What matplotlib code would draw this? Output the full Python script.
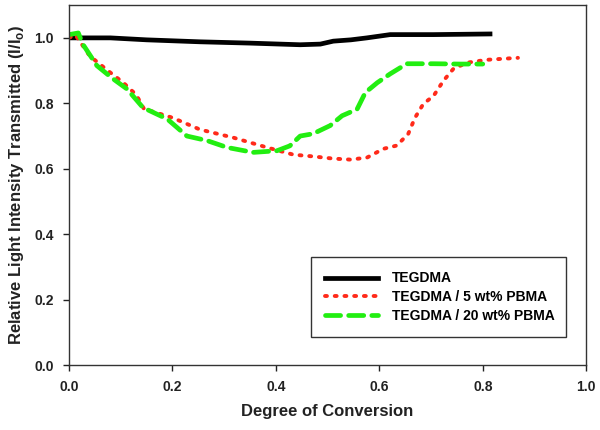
import matplotlib
matplotlib.use('Agg')
import matplotlib.pyplot as plt

plt.rcParams['font.family'] = ['Liberation Sans', 'DejaVu Sans']
plt.rcParams['font.weight'] = 'bold'

# TEGDMA
x_neat = [0.0, 0.08, 0.15, 0.253, 0.35, 0.447, 0.486, 0.511, 0.545, 0.576, 0.621, 0.66, 0.705, 0.76, 0.814]
y_neat = [1.0, 1.0, 0.994, 0.988, 0.984, 0.979, 0.981, 0.99, 0.994, 1.0, 1.01, 1.01, 1.01, 1.011, 1.012]

# TEGDMA / 5 wt% PBMA
x_5 = [0.0, 0.012, 0.04, 0.075, 0.105, 0.13, 0.145, 0.20, 0.253, 0.318, 0.383, 0.434, 0.47, 0.511,
       0.544, 0.576, 0.608, 0.634, 0.656, 0.669, 0.685, 0.705, 0.724, 0.743, 0.769, 0.808, 0.868]
y_5 = [1.0, 1.01, 0.945, 0.9, 0.863, 0.826, 0.783, 0.756, 0.72, 0.695, 0.665, 0.643, 0.638, 0.631,
       0.628, 0.634, 0.661, 0.671, 0.707, 0.756, 0.798, 0.823, 0.869, 0.905, 0.924, 0.933, 0.939]

# TEGDMA / 20 wt% PBMA
x_20 = [0.0, 0.018, 0.027, 0.054, 0.085, 0.112, 0.143, 0.19, 0.228, 0.267, 0.306, 0.356, 0.402, 0.427,
        0.447, 0.472, 0.505, 0.528, 0.557, 0.573, 0.596, 0.621, 0.653, 0.705, 0.756, 0.80]
y_20 = [1.01, 1.015, 0.98, 0.915, 0.875, 0.844, 0.787, 0.752, 0.70, 0.686, 0.665, 0.65, 0.655, 0.67,
        0.70, 0.707, 0.732, 0.762, 0.782, 0.833, 0.863, 0.89, 0.921, 0.921, 0.92, 0.92]

fig = plt.figure(figsize=(6.0, 4.3), dpi=100)
ax = fig.add_axes([0.115, 0.151, 0.862, 0.837])

ax.plot(x_neat, y_neat, color='black', lw=3.4, label='TEGDMA')
ax.plot(x_5, y_5, color='#ff2a1a', lw=2.8, ls=(0, (0.5, 2.0)), dash_capstyle='round',
        label='TEGDMA / 5 wt% PBMA')
ax.plot(x_20, y_20, color='#22ee11', lw=3.4, ls=(0, (3.2, 1.7)), dash_capstyle='round',
        label='TEGDMA / 20 wt% PBMA')

ax.set_xlim(0, 1.0)
ax.set_ylim(0, 1.1)
ax.set_xticks([0.0, 0.2, 0.4, 0.6, 0.8, 1.0])
ax.set_yticks([0.0, 0.2, 0.4, 0.6, 0.8, 1.0])
ax.set_xticklabels(['0.0', '0.2', '0.4', '0.6', '0.8', '1.0'])
ax.set_yticklabels(['0.0', '0.2', '0.4', '0.6', '0.8', '1.0'])
ax.tick_params(direction='out', length=4, width=1, labelsize=10, colors='#222222', pad=7)
for lab in ax.get_xticklabels() + ax.get_yticklabels():
    lab.set_fontweight('bold')
for s in ax.spines.values():
    s.set_color('#333333')
    s.set_linewidth(1)

ax.set_xlabel('Degree of Conversion', fontsize=12, fontweight='bold', labelpad=7, color='#222222')
ax.set_ylabel('Relative Light Intensity Transmitted (I/I$_\\mathregular{o}$)', fontsize=12,
              fontweight='bold', labelpad=6, color='#222222')

leg = ax.legend(loc='lower left', bbox_to_anchor=(0.468, 0.078, 0.493, 0.205), mode='expand',
                fancybox=False, edgecolor='#333333', framealpha=1,
                prop={'weight': 'bold', 'size': 10}, handlelength=3.8, handletextpad=1.0,
                borderpad=1.0, labelspacing=0.35, borderaxespad=0)
leg.get_frame().set_linewidth(1)

fig.savefig('out.png', dpi=100)
